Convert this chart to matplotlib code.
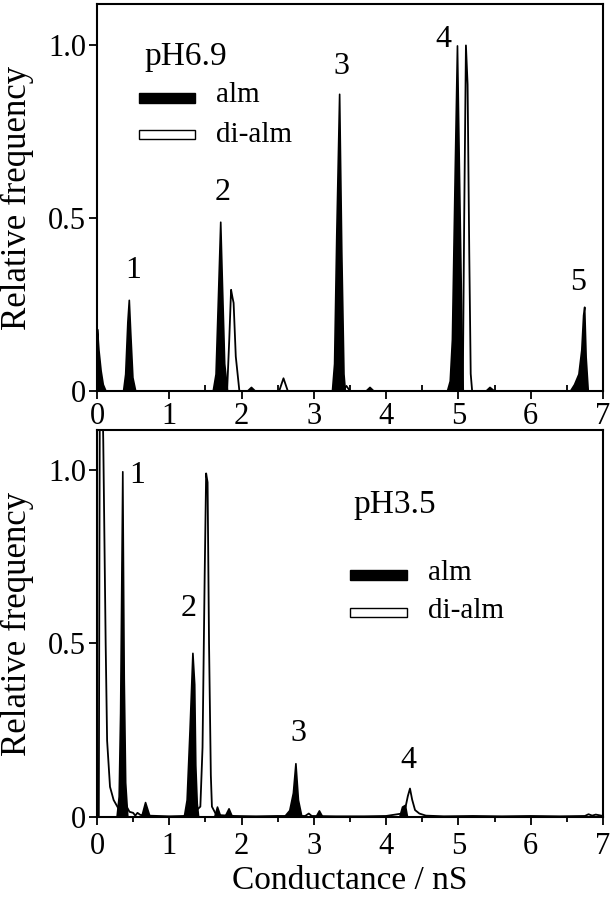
import matplotlib
matplotlib.use('Agg')
import matplotlib.pyplot as plt
from matplotlib.patches import Rectangle

plt.rcParams['font.family'] = ['Liberation Serif', 'DejaVu Serif']

# ---------------- data ----------------
# pH 6.9 panel
top_alm_x = [0.0, 0.02, 0.05, 0.08, 0.12,
             0.36, 0.39, 0.42, 0.44, 0.46, 0.49, 0.53,
             1.60, 1.64, 1.67, 1.705, 1.73, 1.76, 1.80,
             2.07, 2.13, 2.19,
             3.25, 3.28, 3.31, 3.35, 3.38, 3.41, 3.43,
             3.71, 3.77, 3.83,
             4.84, 4.88, 4.91, 4.95, 4.98, 5.01, 5.04, 5.06,
             5.37, 5.43, 5.50,
             6.54, 6.60, 6.66, 6.70, 6.725, 6.74, 6.76, 6.79, 7.0]
top_alm_y = [0.18, 0.12, 0.06, 0.02, 0.0,
             0.0, 0.05, 0.20, 0.264, 0.17, 0.04, 0.0,
             0.0, 0.05, 0.25, 0.49, 0.30, 0.08, 0.0,
             0.0, 0.012, 0.0,
             0.0, 0.08, 0.45, 0.86, 0.40, 0.05, 0.0,
             0.0, 0.012, 0.0,
             0.0, 0.03, 0.15, 0.65, 1.0, 0.60, 0.20, 0.0,
             0.0, 0.012, 0.0,
             0.0, 0.02, 0.05, 0.12, 0.22, 0.244, 0.10, 0.0, 0.0]

top_dialm_x = [0.0, 0.03, 0.07, 0.11,
               1.80, 1.83, 1.855, 1.875, 1.89, 1.92, 1.97,
               2.52, 2.58, 2.64,
               3.40, 3.45, 3.50,
               5.06, 5.08, 5.104, 5.127, 5.15, 5.17, 5.19,
               7.0]
top_dialm_y = [0.05, 0.04, 0.01, 0.0,
               0.0, 0.15, 0.293, 0.27, 0.255, 0.10, 0.0,
               0.0, 0.037, 0.0,
               0.0, 0.015, 0.0,
               0.0, 0.50, 1.0, 0.887, 0.40, 0.05, 0.0,
               0.0]

top_peak_labels = ['1', '2', '3', '4', '5']
top_peak_lx = [0.50, 1.74, 3.38, 4.79, 6.65]
top_peak_ly = [0.35, 0.574, 0.94, 1.017, 0.313]

# pH 3.5 panel
bot_alm_x = [0.27, 0.30, 0.32, 0.35, 0.37, 0.39, 0.42,
             0.61, 0.665, 0.73,
             1.20, 1.24, 1.28, 1.32, 1.345, 1.36, 1.38, 1.40,
             1.62, 1.66, 1.71,
             1.76, 1.82, 1.87,
             2.58, 2.66, 2.71, 2.745, 2.78, 2.83,
             3.02, 3.07, 3.12,
             4.18, 4.22, 4.26, 4.29]
bot_alm_y = [0.0, 0.06, 0.30, 0.996, 0.40, 0.10, 0.0,
             0.0, 0.043, 0.0,
             0.0, 0.05, 0.25, 0.473, 0.383, 0.15, 0.04, 0.0,
             0.0, 0.03, 0.0,
             0.0, 0.025, 0.0,
             0.0, 0.02, 0.07, 0.155, 0.05, 0.0,
             0.0, 0.019, 0.0,
             0.0, 0.03, 0.035, 0.0]

bot_dialm_x = [0.0, 0.025, 0.04, 0.07, 0.087, 0.12, 0.14, 0.18, 0.23, 0.295,
               0.33, 0.365, 0.39, 0.41, 0.45, 0.50, 0.53, 0.56, 0.60, 0.70,
               0.85, 1.0, 1.2, 1.38, 1.43, 1.46, 1.49, 1.51, 1.53, 1.55,
               1.575, 1.59, 1.65, 1.9, 2.2, 2.5, 2.88, 2.93, 2.97, 3.3,
               3.7, 4.0, 4.22, 4.27, 4.30, 4.33, 4.36, 4.40, 4.46, 4.55,
               4.8, 5.2, 5.6, 6.0, 6.4, 6.75, 6.8, 6.85, 6.9, 7.0]
bot_dialm_y = [0.0, 0.0, 1.3, 1.3, 1.08, 0.50, 0.22, 0.087, 0.049, 0.025,
               0.06, 0.125, 0.05, 0.03, 0.015, 0.012, 0.004, 0.012, 0.006, 0.004,
               0.003, 0.002, 0.003, 0.02, 0.03, 0.20, 0.70, 0.99, 0.964, 0.50,
               0.12, 0.03, 0.006, 0.003, 0.002, 0.003, 0.003, 0.010, 0.003, 0.002,
               0.002, 0.003, 0.01, 0.03, 0.06, 0.082, 0.05, 0.02, 0.01, 0.004,
               0.002, 0.003, 0.002, 0.003, 0.002, 0.003, 0.008, 0.004, 0.007, 0.003]

bot_peak_labels = ['1', '2', '3', '4']
bot_peak_lx = [0.55, 1.27, 2.78, 4.31]
bot_peak_ly = [0.985, 0.60, 0.24, 0.164]

x_ticks = [0, 1, 2, 3, 4, 5, 6, 7]
x_minor = [0.5, 1.5, 2.5, 3.5, 4.5, 5.5, 6.5]
y_ticks = [0, 0.5, 1.0]
y_ticklabels = ['0', '0.5', '1.0']
series_names = ['alm', 'di-alm']

# ---------------- figure ----------------
fig = plt.figure(figsize=(6.1, 8.99), dpi=100)
ax1 = fig.add_axes([0.159, 0.565, 0.8295, 0.4306])
ax2 = fig.add_axes([0.159, 0.0912, 0.8295, 0.4305])


def style(ax, ymax, minor_dir):
    ax.set_xlim(0, 7)
    ax.set_ylim(0, ymax)
    ax.set_xticks(x_ticks)
    ax.set_xticks(x_minor, minor=True)
    ax.set_yticks(y_ticks)
    ax.set_yticklabels(y_ticklabels)
    ax.tick_params(axis='both', which='major', direction='out', length=6,
                   width=1.3, labelsize=22, pad=2)
    ax.tick_params(axis='x', which='minor', direction=minor_dir, length=4, width=1.3)
    ax.tick_params(axis='y', which='minor', left=False)
    for s in ax.spines.values():
        s.set_linewidth(1.5)
    ax.set_ylabel('Relative frequency', fontsize=25)
    ax.yaxis.set_label_coords(-0.125, 0.5)


def legend(ax, tx, ty, rx0, rx1, alm_y0, alm_y1, di_y0, di_y1, lx, alm_base, di_base, label):
    ax.text(tx, ty, label, transform=ax.transAxes, fontsize=24, ha='left', va='baseline')
    ax.add_patch(Rectangle((rx0, alm_y0), rx1 - rx0, alm_y1 - alm_y0, transform=ax.transAxes,
                           facecolor='black', edgecolor='black', lw=1.0))
    ax.add_patch(Rectangle((rx0, di_y0), rx1 - rx0, di_y1 - di_y0, transform=ax.transAxes,
                           facecolor='white', edgecolor='black', lw=1.0))
    ax.text(lx, alm_base, series_names[0], transform=ax.transAxes, fontsize=21,
            ha='left', va='baseline')
    ax.text(lx, di_base, series_names[1], transform=ax.transAxes, fontsize=21,
            ha='left', va='baseline')


# top panel
ax1.fill_between(top_alm_x, 0, top_alm_y, facecolor='black', edgecolor='black', lw=1.2)
ax1.plot(top_dialm_x, top_dialm_y, color='black', lw=1.3)
style(ax1, 1.12, 'in')
for t, x, y in zip(top_peak_labels, top_peak_lx, top_peak_ly):
    ax1.text(x, y, t, fontsize=23, ha='center', va='center')
legend(ax1, 0.093, 0.842, 0.083, 0.194, 0.745, 0.771, 0.651, 0.674, 0.236, 0.7475, 0.644, 'pH6.9')

# bottom panel
ax2.fill_between(bot_alm_x, 0, bot_alm_y, facecolor='black', edgecolor='black', lw=1.2)
ax2.plot(bot_dialm_x, bot_dialm_y, color='black', lw=1.3)
style(ax2, 1.115, 'out')
ax2.tick_params(axis='x', which='major', pad=5)
ax2.tick_params(axis='x', which='minor', length=3.5)
for t, x, y in zip(bot_peak_labels, bot_peak_lx, bot_peak_ly):
    ax2.text(x, y, t, fontsize=23, ha='center', va='center')
legend(ax2, 0.506, 0.785, 0.501, 0.612, 0.612, 0.638, 0.517, 0.540, 0.654, 0.612, 0.514, 'pH3.5')
ax2.set_xlabel('Conductance / nS', fontsize=24, labelpad=3)

fig.savefig('out.png', dpi=100)
